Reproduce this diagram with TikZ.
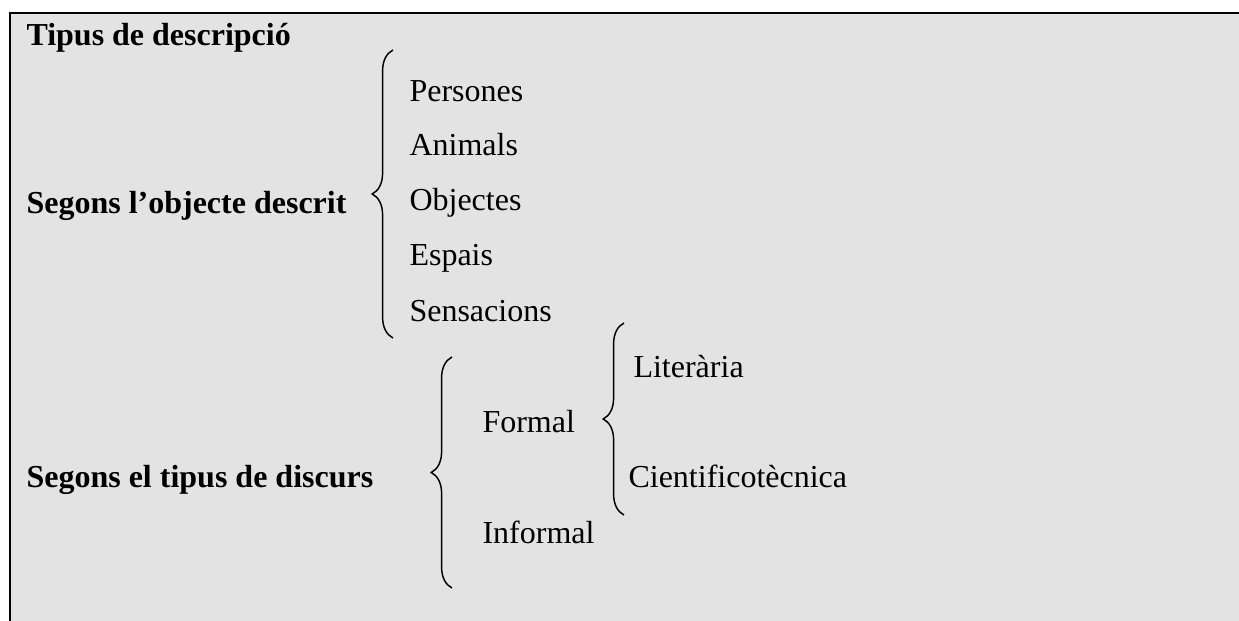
\documentclass[tikz,border=0pt]{standalone}
\usepackage{fontspec}
\setmainfont{Liberation Serif}
\usepackage{xcolor}
\usetikzlibrary{decorations.pathreplacing}
\definecolor{fonsgris}{RGB}{227,227,227}

\begin{document}
\begin{tikzpicture}[x=0.375pt,y=-0.375pt,
        txt/.style={anchor=base west,inner sep=0pt,font=\fontsize{12}{14}\selectfont},
        titol/.style={txt,font=\fontsize{12}{14}\selectfont\bfseries},
        clau/.style={decorate,decoration={brace,amplitude=7.8pt},line width=0.55pt}]
        \useasboundingbox (0,0) rectangle (1239,621);
        \fill[fonsgris] (10,13) rectangle (1239,621);
        \draw[line width=0.75pt] (10,621) -- (10,13) -- (1239,13);

        \node[titol] (tipus) at (26,46) {Tipus de descripció};
        \node[titol] (objecte) at (26,214) {Segons l’objecte descrit};
        \node[titol] (discurs) at (26,488) {Segons el tipus de discurs};

        \node[txt] (persones) at (409,102) {Persones};
        \node[txt] (animals) at (409,156) {Animals};
        \node[txt] (objectes) at (409,211) {Objectes};
        \node[txt] (espais) at (409,266) {Espais};
        \node[txt] (sensacions) at (409,322) {Sensacions};

        \node[txt] (formal) at (482,433) {Formal};
        \node[txt] (informal) at (482,544) {Informal};
        \node[txt] (literaria) at (633,378) {Literària};
        \node[txt] (cientifica) at (628,488) {Cientificotècnica};

        \coordinate (c1dalt) at (393,50);
        \coordinate (c1baix) at (393,338);
        \coordinate (c2dalt) at (452,357);
        \coordinate (c2baix) at (452,588);
        \coordinate (c3dalt) at (624,323);
        \coordinate (c3baix) at (624,515);

        \draw[clau] (c1baix) -- (c1dalt);
        \draw[clau] (c2baix) -- (c2dalt);
        \draw[clau] (c3baix) -- (c3dalt);
\end{tikzpicture}
\end{document}
